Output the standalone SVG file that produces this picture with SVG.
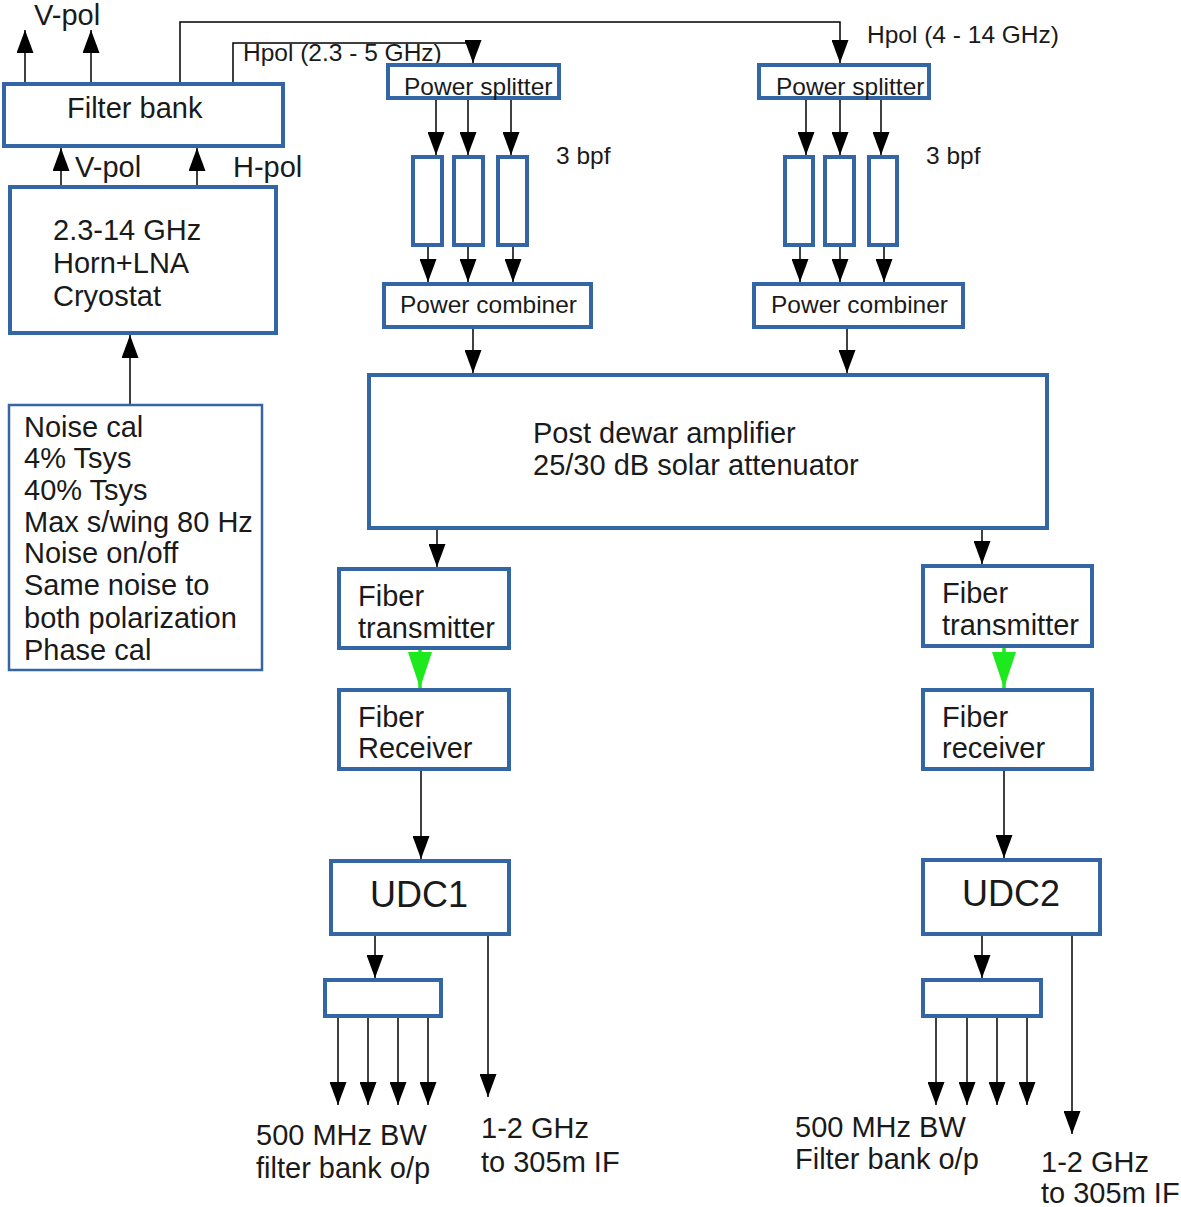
<svg xmlns="http://www.w3.org/2000/svg" width="1181" height="1207" viewBox="0 0 1181 1207">
<defs>
<style>
.box{fill:#fff;stroke:#3465a4;stroke-width:4}
.thin{fill:#fff;stroke:#3465a4;stroke-width:2.5}
.t{font-family:"Liberation Sans",Arial,sans-serif;font-size:29px;fill:#1a1a1a}
.s{font-family:"Liberation Sans",Arial,sans-serif;font-size:24.5px;fill:#1a1a1a}
.u{font-family:"Liberation Sans",Arial,sans-serif;font-size:36px;fill:#1a1a1a}
.c{fill:none;stroke:#000;stroke-width:1.5;marker-end:url(#ah)}
.g{fill:none;stroke:#1ee81e;stroke-width:3.5;marker-end:url(#gh)}
</style>
<marker id="ah" markerUnits="userSpaceOnUse" markerWidth="23" markerHeight="17" refX="23" refY="8.5" orient="auto"><path d="M0,0 L23,8.5 L0,17 z" fill="#000"/></marker>
<marker id="gh" markerUnits="userSpaceOnUse" markerWidth="36" markerHeight="24" refX="36" refY="12" orient="auto"><path d="M0,0 L36,12 L0,24 z" fill="#1ee81e"/></marker>
</defs>
<rect width="1181" height="1207" fill="#fff"/>

<g id="connectors">
<path class="c" d="M25,82 V30"/>
<path class="c" d="M91,82 V30"/>
<path class="c" d="M180,82 V22 H840 V63"/>
<path class="c" d="M233,82 V43 H473 V63"/>
<path class="c" d="M61,185 V148"/>
<path class="c" d="M197,185 V148"/>
<path class="c" d="M130,404 V335"/>
<path class="c" d="M436,100 V155"/>
<path class="c" d="M468,100 V155"/>
<path class="c" d="M511,100 V155"/>
<path class="c" d="M806,100 V155"/>
<path class="c" d="M840,100 V155"/>
<path class="c" d="M881,100 V155"/>
<path class="c" d="M428,247 V282"/>
<path class="c" d="M468,247 V282"/>
<path class="c" d="M513,247 V282"/>
<path class="c" d="M800,247 V282"/>
<path class="c" d="M840,247 V282"/>
<path class="c" d="M884,247 V282"/>
<path class="c" d="M473,329 V373"/>
<path class="c" d="M847,329 V373"/>
<path class="c" d="M437,530 V567"/>
<path class="c" d="M982,530 V564"/>
<path class="g" d="M420,646 V688"/>
<path class="g" d="M1004,644 V688"/>
<path class="c" d="M421,771 V859"/>
<path class="c" d="M1004,771 V858"/>
<path class="c" d="M375,936 V978"/>
<path class="c" d="M338,1018 V1105"/>
<path class="c" d="M368,1018 V1105"/>
<path class="c" d="M398,1018 V1105"/>
<path class="c" d="M428,1018 V1105"/>
<path class="c" d="M488,936 V1097"/>
<path class="c" d="M982,936 V978"/>
<path class="c" d="M936,1018 V1105"/>
<path class="c" d="M967,1018 V1105"/>
<path class="c" d="M997,1018 V1105"/>
<path class="c" d="M1027,1018 V1105"/>
<path class="c" d="M1072,936 V1134"/>
</g>

<g id="labels">
<text class="t" x="34" y="25">V-pol</text>
<text class="t" x="75" y="177">V-pol</text>
<text class="t" x="233" y="177">H-pol</text>
<text class="s" x="243" y="61">Hpol (2.3 - 5 GHz)</text>
<text class="s" x="867" y="43">Hpol (4 - 14 GHz)</text>
<text class="s" x="556" y="164">3 bpf</text>
<text class="s" x="926" y="164">3 bpf</text>
<text class="t" x="256" y="1145">500 MHz BW</text>
<text class="t" x="256" y="1178">filter bank o/p</text>
<text class="t" x="481" y="1138">1-2 GHz</text>
<text class="t" x="481" y="1172">to 305m IF</text>
<text class="t" x="795" y="1137">500 MHz BW</text>
<text class="t" x="795" y="1169">Filter bank o/p</text>
<text class="t" x="1041" y="1172">1-2 GHz</text>
<text class="t" x="1041" y="1203">to 305m IF</text>
</g>

<g id="filterbank"><rect class="box" x="4" y="84" width="279" height="62"/><text class="t" x="67" y="118">Filter bank</text></g>
<g id="cryostat"><rect class="box" x="10" y="187" width="266" height="146"/>
<text class="t" x="53" y="240">2.3-14 GHz</text><text class="t" x="53" y="273">Horn+LNA</text><text class="t" x="53" y="306">Cryostat</text></g>
<g id="noisecal"><rect class="thin" x="9" y="405" width="253" height="265"/>
<text class="t" x="24" y="437">Noise cal</text>
<text class="t" x="24" y="468">4% Tsys</text>
<text class="t" x="24" y="500">40% Tsys</text>
<text class="t" x="24" y="532">Max s/wing 80 Hz</text>
<text class="t" x="24" y="563">Noise on/off</text>
<text class="t" x="24" y="595">Same noise to</text>
<text class="t" x="24" y="628">both polarization</text>
<text class="t" x="24" y="660">Phase cal</text></g>
<g id="splitter1"><rect class="box" x="388" y="65" width="171" height="33"/><text class="s" x="404" y="95">Power splitter</text></g>
<g id="splitter2"><rect class="box" x="759" y="65" width="170" height="33"/><text class="s" x="776" y="95">Power splitter</text></g>
<g id="bpf1a"><rect class="box" x="413" y="157" width="29" height="88"/></g>
<g id="bpf1b"><rect class="box" x="454" y="157" width="29" height="88"/></g>
<g id="bpf1c"><rect class="box" x="498" y="157" width="29" height="88"/></g>
<g id="bpf2a"><rect class="box" x="785" y="157" width="28" height="88"/></g>
<g id="bpf2b"><rect class="box" x="825" y="157" width="29" height="88"/></g>
<g id="bpf2c"><rect class="box" x="869" y="157" width="28" height="88"/></g>
<g id="combiner1"><rect class="box" x="384" y="284" width="207" height="43"/><text class="s" x="400" y="313">Power combiner</text></g>
<g id="combiner2"><rect class="box" x="754" y="284" width="209" height="43"/><text class="s" x="771" y="313">Power combiner</text></g>
<g id="postdewar"><rect class="box" x="369" y="375" width="678" height="153"/>
<text class="t" x="533" y="443">Post dewar amplifier</text><text class="t" x="533" y="475">25/30 dB solar attenuator</text></g>
<g id="fibertx1"><rect class="box" x="339" y="569" width="170" height="79"/><text class="t" x="358" y="606">Fiber</text><text class="t" x="358" y="638">transmitter</text></g>
<g id="fibertx2"><rect class="box" x="923" y="566" width="169" height="80"/><text class="t" x="942" y="603">Fiber</text><text class="t" x="942" y="635">transmitter</text></g>
<g id="fiberrx1"><rect class="box" x="339" y="690" width="170" height="79"/><text class="t" x="358" y="727">Fiber</text><text class="t" x="358" y="758">Receiver</text></g>
<g id="fiberrx2"><rect class="box" x="923" y="690" width="169" height="79"/><text class="t" x="942" y="727">Fiber</text><text class="t" x="942" y="758">receiver</text></g>
<g id="udc1"><rect class="box" x="331" y="861" width="178" height="73"/><text class="u" x="370" y="907">UDC1</text></g>
<g id="udc2"><rect class="box" x="923" y="860" width="177" height="74"/><text class="u" x="962" y="906">UDC2</text></g>
<g id="fbank1"><rect class="box" x="325" y="980" width="116" height="36"/></g>
<g id="fbank2"><rect class="box" x="923" y="980" width="118" height="36"/></g>
</svg>
